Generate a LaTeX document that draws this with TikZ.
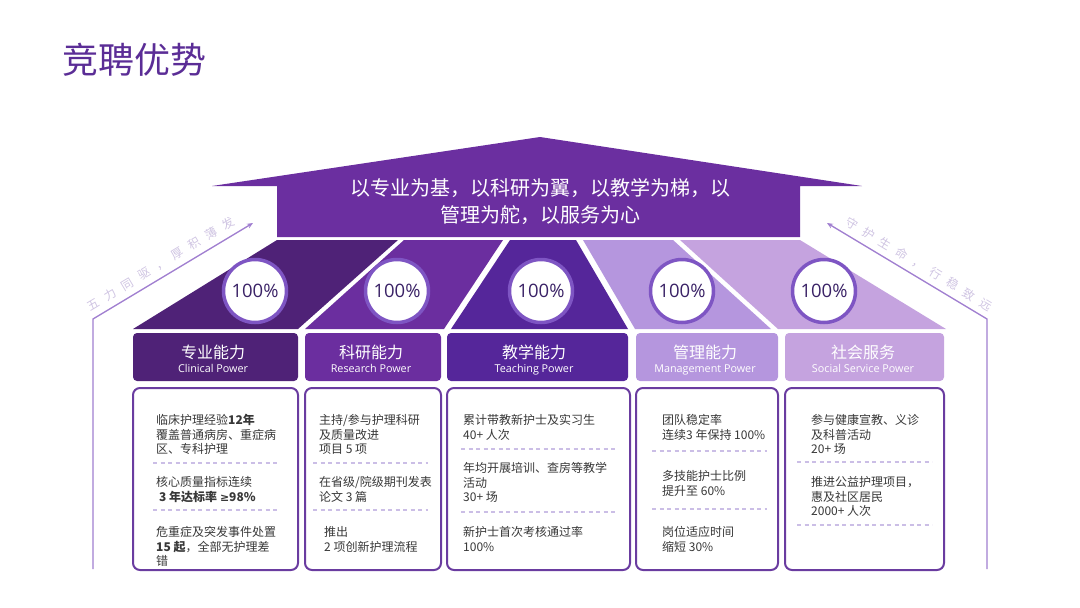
\documentclass[tikz,border=0pt]{standalone}
\usepackage{fontspec}
\setmainfont{Noto Sans CJK SC}
\newfontfamily\latinf{Open Sans}
\newfontfamily\symf{DejaVu Sans}
\usetikzlibrary{arrows.meta}
\definecolor{titlec}{HTML}{5B2D96}
\definecolor{roofc}{HTML}{6B2FA0}
\definecolor{sA}{HTML}{4F2277}
\definecolor{sB}{HTML}{6B2E9F}
\definecolor{sC}{HTML}{55269A}
\definecolor{sD}{HTML}{B596DE}
\definecolor{sE}{HTML}{C5A3DF}
\definecolor{ringc}{HTML}{7E55C3}
\definecolor{pctc}{HTML}{3A2266}
\definecolor{boxc}{HTML}{6A3CA0}
\definecolor{dashc}{HTML}{CBBEE6}
\definecolor{txtc}{HTML}{383838}
\definecolor{arrc}{HTML}{A07ED0}
\definecolor{slogc}{HTML}{CFC4E2}
\newcommand\hs{\hspace{7.6pt}}
\newcommand\fst{\rule{0pt}{11pt}}
\tikzset{
  hdr/.style={rectangle, rounded corners=4pt, inner sep=0pt, minimum height=48, fill=#1},
  hcn/.style={inner sep=0pt, text=white, font=\fontsize{16}{16}\selectfont},
  hen/.style={inner sep=0pt, anchor=base, text=white, font=\latinf\fontsize{10.8}{12}\selectfont},
  pct/.style={circle, fill=white, draw=ringc, line width=3.5pt, minimum size=63, inner sep=0pt, text=pctc, font=\latinf\fontsize{18.5}{18.5}\selectfont},
  card/.style={rectangle, rounded corners=7pt, draw=boxc, line width=2pt, fill=white, minimum height=182, inner sep=0pt},
  para/.style={anchor=north west, inner sep=0pt, align=left, text=txtc, font=\fontsize{12}{14.5}\selectfont},
  dline/.style={draw=dashc, line width=1.2pt, dash pattern=on 4pt off 3.5pt},
  arrline/.style={draw=arrc, line width=1.3pt},
  slog/.style={inner sep=0pt, text=slogc, font=\fontsize{12}{12}\selectfont}
}
\begin{document}
\begin{tikzpicture}[x=1pt,y=-1pt]
\useasboundingbox (0,0) rectangle (1080,608);
% title
\node[anchor=west, inner sep=0pt, text=titlec, font=\fontsize{36}{36}\selectfont] (title) at (62,60) {竞聘优势};
% roof
\fill[roofc] (212,186) -- (540,137) -- (862,186) -- (800,186) -- (800,237) -- (277,237) -- (277,186) -- cycle;
\node[inner sep=0pt, align=center, text=white, font=\fontsize{20}{27}\selectfont] (roof) at (540,201.5) {以专业为基，以科研为翼，以教学为梯，以\\管理为舵，以服务为心};
% segments
\fill[sA] (277,240) -- (398,240) -- (298,329) -- (133,329) -- cycle;
\fill[sB] (404,240) -- (503,240) -- (444,329) -- (305,329) -- cycle;
\fill[sC] (510,240) -- (576,240) -- (628,329) -- (451,329) -- cycle;
\fill[sD] (583,240) -- (673,240) -- (771,329) -- (635,329) -- cycle;
\fill[sE] (680,240) -- (800,240) -- (946,329) -- (778,329) -- cycle;
% circles
\node[pct] (p1) at (255,291) {100\%};
\node[pct] (p2) at (397,291) {100\%};
\node[pct] (p3) at (541,291) {100\%};
\node[pct] (p4) at (682,291) {100\%};
\node[pct] (p5) at (824,291) {100\%};
% headers
\node[hdr=sA, minimum width=165] (h1) at (215.5,357) {};
\node[hdr=sB, minimum width=136] (h2) at (373,357) {};
\node[hdr=sC, minimum width=181] (h3) at (537.5,357) {};
\node[hdr=sD, minimum width=142] (h4) at (707,357) {};
\node[hdr=sE, minimum width=159] (h5) at (864.5,357) {};
\node[hcn] (h1c) at (213,352) {专业能力};
\node[hen] (h1e) at (213,372.5) {Clinical Power};
\node[hcn] (h2c) at (371,352) {科研能力};
\node[hen] (h2e) at (371,372.5) {Research Power};
\node[hcn] (h3c) at (534,352) {教学能力};
\node[hen] (h3e) at (534,372.5) {Teaching Power};
\node[hcn] (h4c) at (705,352) {管理能力};
\node[hen] (h4e) at (705,372.5) {Management Power};
\node[hcn] (h5c) at (863,352) {社会服务};
\node[hen] (h5e) at (863,372.5) {Social Service Power};
% cards
\node[card, minimum width=165] (b1) at (215.5,479) {};
\node[card, minimum width=136] (b2) at (373,479) {};
\node[card, minimum width=183] (b3) at (538.5,479) {};
\node[card, minimum width=142] (b4) at (707,479) {};
\node[card, minimum width=159] (b5) at (864.5,479) {};
% card 1
\node[para] (t11) at (156,413.5) {\fst 临床护理经验\textbf{12年}\\覆盖普通病房、重症病\\区、专科护理};
\draw[dline] (153,463) -- (280,463);
\node[para] (t12) at (156,475.5) {\fst 核心质量指标连续\\\hspace{3pt}\textbf{3 年达标率 {\symf\fontsize{11}{11}\selectfont ≥}98\%}};
\draw[dline] (153,510) -- (280,510);
\node[para] (t13) at (156,525.5) {\fst 危重症及突发事件处置\\\textbf{15 起}，全部无护理差\\错};
% card 2
\node[para] (t21) at (319,413.5) {\fst 主持/参与护理科研\\及质量改进\\项目 5 项};
\draw[dline] (313,463) -- (428,463);
\node[para] (t22) at (319,475.5) {\fst 在省级/院级期刊发表\\论文 3 篇};
\draw[dline] (313,510) -- (428,510);
\node[para] (t23) at (324,525.5) {\fst 推出\\2 项创新护理流程};
% card 3
\node[para] (t31) at (463,413.5) {\fst 累计带教新护士及实习生\\40+ 人次};
\draw[dline] (461,449) -- (618,449);
\node[para] (t32) at (463,461.5) {\fst 年均开展培训、查房等教学\\活动\\30+ 场};
\draw[dline] (461,512) -- (618,512);
\node[para] (t33) at (463,525.5) {\fst 新护士首次考核通过率\\100\%};
% card 4
\node[para] (t41) at (662,413.5) {\fst 团队稳定率\\连续3 年保持 100\%};
\draw[dline] (652,451) -- (767,451);
\node[para] (t42) at (662,469.5) {\fst 多技能护士比例\\提升至 60\%};
\draw[dline] (652,509) -- (767,509);
\node[para] (t43) at (662,525.5) {\fst 岗位适应时间\\缩短 30\%};
% card 5
\node[para] (t51) at (811,413.5) {\fst 参与健康宣教、义诊\\及科普活动\\20+ 场};
\draw[dline] (797,462) -- (932,462);
\node[para] (t52) at (811,475.5) {\fst 推进公益护理项目，\\惠及社区居民\\2000+ 人次};
\draw[dline] (797,525) -- (932,525);
% side arrows
\coordinate (la0) at (93,569);
\coordinate (la1) at (93,319);
\coordinate (la2) at (253,223);
\coordinate (ra0) at (987,569);
\coordinate (ra1) at (987,319);
\coordinate (ra2) at (827,223);
\draw[arrline, -{Stealth[length=6pt,width=5pt]}] (la0) -- (la1) -- (la2);
\draw[arrline, -{Stealth[length=6pt,width=5pt]}] (ra0) -- (ra1) -- (ra2);
\node[slog, rotate=31] (s1) at (161,264) {五\hs 力\hs 同\hs 驱\hs ，\hs 厚\hs 积\hs 薄\hs 发};
\node[slog, rotate=-31] (s2) at (919,264) {守\hs 护\hs 生\hs 命\hs ，\hs 行\hs 稳\hs 致\hs 远};
\end{tikzpicture}
\end{document}
